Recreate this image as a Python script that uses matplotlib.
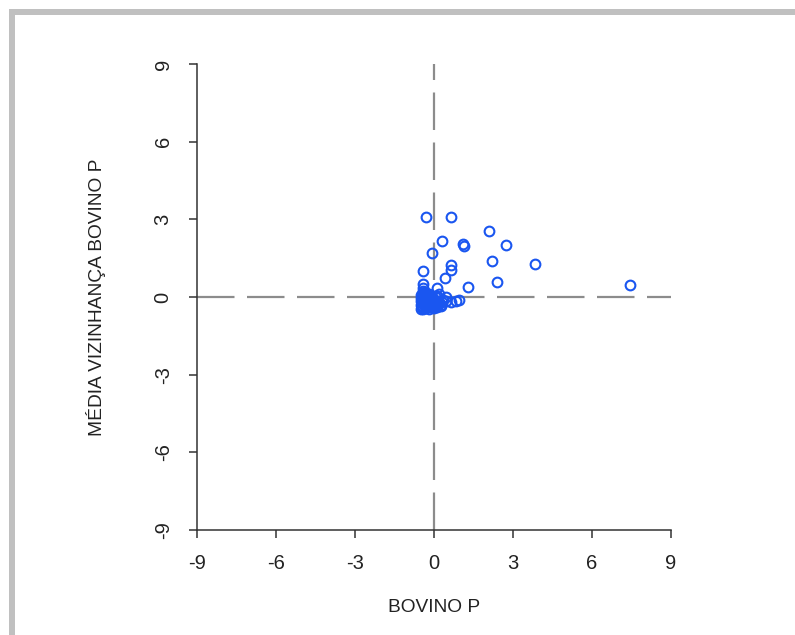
import matplotlib
matplotlib.use("Agg")
import matplotlib.pyplot as plt
from matplotlib.patches import Rectangle

plt.rcParams['font.family'] = ['Liberation Sans', 'DejaVu Sans']
plt.rcParams['lines.scale_dashes'] = False

# points away from the origin cluster
outer_x = [-0.30, 0.65, 2.10, 0.32, 1.10, 1.15, 2.75, -0.08, 2.22, 3.85,
           0.65, 0.63, -0.40, 0.40, 2.38, 1.28, 7.45, 0.10, 0.65, 0.85,
           0.95, 0.45, -0.42, -0.41, -0.40]
outer_y = [3.10, 3.10, 2.55, 2.15, 2.05, 1.98, 2.00, 1.70, 1.40, 1.28,
           1.22, 1.05, 1.00, 0.74, 0.58, 0.40, 0.48, 0.33, -0.20, -0.15,
           -0.10, -0.02, 0.50, 0.35, 0.22]

# dense cluster near the origin
cluster_x = [-0.50, -0.45, -0.40, -0.30, -0.20, -0.10, 0.00, 0.10,
             -0.50, -0.42, -0.35, -0.25, -0.15, -0.05, 0.05, 0.15,
             -0.48, -0.40, -0.32, -0.22, -0.12, -0.02, 0.08,
             -0.45, -0.38, -0.28, -0.18, -0.08, 0.02, 0.12,
             -0.42, -0.35, -0.25, 0.30, 0.35, 0.45, 0.25, 0.20,
             -0.46, -0.36, -0.26, -0.16, -0.06, 0.04, -0.44, -0.34,
             -0.24, -0.14, -0.04, 0.06, -0.43, -0.33, -0.23, -0.13,
             -0.03, -0.38, -0.28, -0.18, -0.50, -0.48, 0.18, 0.28]
cluster_y = [-0.45, -0.40, -0.45, -0.42, -0.45, -0.40, -0.42, -0.38,
             -0.30, -0.25, -0.32, -0.28, -0.30, -0.25, -0.30, -0.28,
             -0.15, -0.10, -0.18, -0.12, -0.15, -0.10, -0.15,
             0.00, 0.05, -0.02, 0.03, -0.03, 0.02, 0.05,
             0.15, 0.20, 0.12, -0.20, -0.10, -0.15, -0.35, 0.10,
             -0.36, -0.36, -0.36, -0.36, -0.34, -0.34, -0.20, -0.22,
             -0.21, -0.22, -0.20, -0.22, -0.06, -0.08, -0.06, -0.07,
             -0.05, 0.10, 0.08, 0.10, -0.05, 0.08, -0.20, -0.30]

ticks = [-9, -6, -3, 0, 3, 6, 9]

fig = plt.figure(figsize=(7.95, 6.35), dpi=100)
ax = fig.add_axes([0.2478, 0.1654, 0.5962, 0.7339])

ax.axhline(0, color='#8c8c8c', lw=1.6, dashes=(27, 9), zorder=1)
ax.axvline(0, color='#8c8c8c', lw=1.6, dashes=(27, 9), zorder=1)

blue = '#1a56f0'
ax.plot(outer_x + cluster_x, outer_y + cluster_y, 'o', ms=7, mfc='none',
        mec=blue, mew=1.5, zorder=3, clip_on=False)

ax.set_xlim(-9, 9)
ax.set_ylim(-9, 9)
ax.set_xticks(ticks)
ax.set_yticks(ticks)
ax.set_xticklabels([str(t) for t in ticks])
ax.set_yticklabels([str(t) for t in ticks], rotation=90, va='center')

for s in ['top', 'right']:
    ax.spines[s].set_visible(False)
for s in ['left', 'bottom']:
    ax.spines[s].set_color('#333333')
    ax.spines[s].set_linewidth(1.1)

ax.tick_params(direction='out', length=6, width=1.1, color='#333333',
               labelsize=14.5, labelcolor='#222222', pad=11.5)

ax.set_xlabel('BOVINO P', fontsize=13.8, color='#222222', labelpad=18.5)
ax.set_ylabel('MÉDIA VIZINHANÇA BOVINO P', fontsize=13.8, color='#222222',
              labelpad=34)

# light gray frame at top and left edges
fig.add_artist(Rectangle((9 / 795, 620 / 635), 1.0, 6 / 635,
                         transform=fig.transFigure, color='#c0c0c0', lw=0))
fig.add_artist(Rectangle((9 / 795, 0), 6 / 795, 626 / 635,
                         transform=fig.transFigure, color='#c0c0c0', lw=0))

fig.savefig('out.png', dpi=100)
